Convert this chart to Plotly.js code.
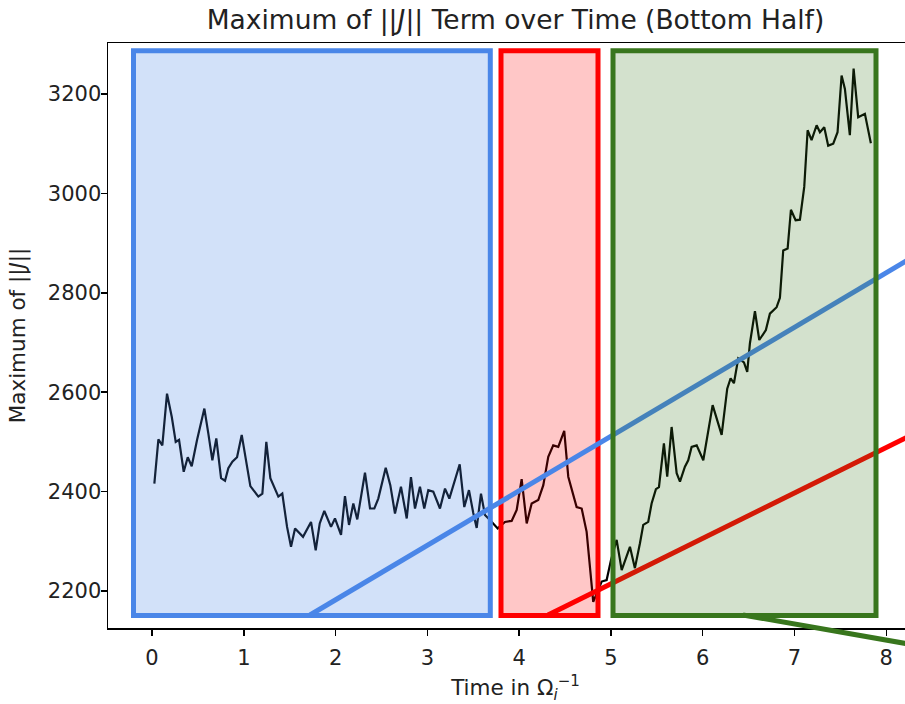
<!DOCTYPE html>
<html>
<head>
<meta charset="utf-8">
<script src="https://cdn.plot.ly/plotly-3.0.1.min.js"></script>
<style>
  html, body { margin: 0; padding: 0; overflow: hidden; background: #fff; }
  #chart { width: 960px; height: 704px; }
</style>
</head>
<body>
<div id="chart"></div>
<script>
// Time in 1/Omega_i
const timeVals = [0.025,0.069,0.112,0.163,0.215,0.258,0.294,0.345,0.389,0.432,0.490,0.570,0.613,0.657,0.700,0.752,0.795,0.831,0.875,0.926,0.977,1.021,1.071,1.158,1.202,1.245,1.289,1.376,1.419,1.471,1.514,1.558,1.645,1.732,1.783,1.827,1.877,1.950,1.993,2.059,2.102,2.146,2.193,2.236,2.320,2.375,2.422,2.465,2.546,2.596,2.647,2.712,2.775,2.821,2.865,2.919,2.966,3.010,3.064,3.137,3.192,3.239,3.352,3.402,3.453,3.500,3.537,3.584,3.627,3.682,3.766,3.845,3.918,3.973,4.027,4.082,4.136,4.208,4.263,4.317,4.371,4.426,4.491,4.535,4.626,4.681,4.735,4.807,4.899,4.953,5.000,5.062,5.117,5.207,5.261,5.316,5.352,5.406,5.443,5.490,5.523,5.577,5.613,5.661,5.716,5.752,5.806,5.842,5.879,5.934,6.006,6.108,6.206,6.267,6.304,6.340,6.387,6.449,6.485,6.514,6.569,6.616,6.688,6.732,6.805,6.841,6.877,6.925,6.961,7.012,7.059,7.106,7.143,7.186,7.241,7.277,7.324,7.367,7.422,7.469,7.513,7.549,7.603,7.644,7.694,7.767,7.832];
// Maximum of ||J||
const maxJ = [2416,2505,2493,2597,2550,2500,2504,2440,2469,2451,2504,2567,2517,2463,2507,2427,2422,2447,2460,2469,2514,2467,2411,2390,2396,2500,2427,2390,2396,2329,2289,2326,2309,2339,2282,2336,2361,2329,2346,2313,2391,2333,2376,2344,2438,2366,2366,2386,2448,2413,2356,2410,2346,2429,2366,2410,2366,2403,2400,2366,2406,2386,2455,2369,2403,2357,2327,2396,2353,2343,2326,2339,2341,2363,2425,2336,2376,2383,2413,2470,2493,2490,2522,2430,2369,2366,2319,2178,2219,2222,2262,2303,2242,2289,2246,2296,2333,2339,2376,2405,2409,2497,2430,2530,2437,2420,2450,2463,2490,2493,2463,2574,2514,2607,2628,2618,2668,2660,2641,2698,2763,2705,2725,2758,2771,2790,2885,2889,2967,2946,2947,3013,3127,3107,3137,3123,3133,3096,3100,3123,3237,3210,3117,3251,3153,3160,3101];

const xTicks = [0,1,2,3,4,5,6,7,8];
const yTicks = [2200,2400,2600,2800,3000,3200];

// Layout geometry (pixels)
const W = 960, H = 704;
const M = {l:108, r:37, t:43, b:76};
const PW = W - M.l - M.r, PH = H - M.t - M.b;
const px = x => (x - M.l) / PW;       // pixel x -> paper
const py = y => (H - M.b - y) / PH;   // pixel y -> paper

const BLUE = 'rgb(74,134,232)', RED = 'rgb(255,0,0)', GREEN = 'rgb(56,118,29)';
const shapes = [];
function seg(x0,y0,x1,y1,color){
  shapes.push({type:'line', xref:'paper', yref:'paper', x0:px(x0), y0:py(y0), x1:px(x1), y1:py(y1),
    line:{color:color, width:5}, layer:'above'});
}
function box(x0,x1,color,fill){
  shapes.push({type:'rect', xref:'paper', yref:'paper', x0:px(x0), x1:px(x1), y0:py(615.5), y1:py(50.8),
    line:{color:color, width:5}, fillcolor:fill, layer:'above'});
}
box(133.5,490.3, BLUE, 'rgba(74,134,232,0.25)');
box(501,598, RED, 'rgba(255,0,0,0.22)');
seg(310,615, 960,229, BLUE);
seg(548,615, 960,411, RED);
seg(743,615, 960,653, GREEN);
box(613,876, GREEN, 'rgba(56,118,29,0.22)');

const FONT = 'DejaVu Sans, sans-serif';
const trace = {x: timeVals, y: maxJ, type:'scatter', mode:'lines',
  line:{color:'#000', width:2.2}, hoverinfo:'skip'};

const axisCommon = {showgrid:false, zeroline:false, showline:true, linecolor:'#000', linewidth:1.5,
  mirror:true, ticks:'outside', ticklen:6, tickwidth:1.5, tickcolor:'#000',
  tickfont:{family:FONT, size:21, color:'#222'}};

const layout = {
  width: W, height: H, margin: M,
  paper_bgcolor:'#fff', plot_bgcolor:'#fff', showlegend:false,
  font:{family:FONT, color:'#222'},
  title:{text:'Maximum of ||<i>J</i>|| Term over Time (Bottom Half)', font:{family:FONT, size:26.5, color:'#222'},
    xref:'paper', x:0.5, xanchor:'center', yref:'container', y:1-20/H, yanchor:'middle'},
  xaxis: Object.assign({}, axisCommon, {range:[-0.48, 8.4], tickvals:xTicks, ticktext:xTicks.map(String),
    ticklabelstandoff:4,
    title:{text:'Time in Ω<sub><i>i</i></sub><sup>−1</sup>', font:{family:FONT, size:21.5, color:'#222'}, standoff:12}}),
  yaxis: Object.assign({}, axisCommon, {range:[2125.6, 3302.5], tickvals:yTicks, ticktext:yTicks.map(String),
    ticklabelstandoff:-5,
    title:{text:'Maximum of ||<i>J</i>||', font:{family:FONT, size:21.5, color:'#222'}, standoff:16}}),
  shapes: shapes
};

Plotly.newPlot('chart', [trace], layout, {staticPlot:true, displayModeBar:false});
</script>
</body>
</html>
